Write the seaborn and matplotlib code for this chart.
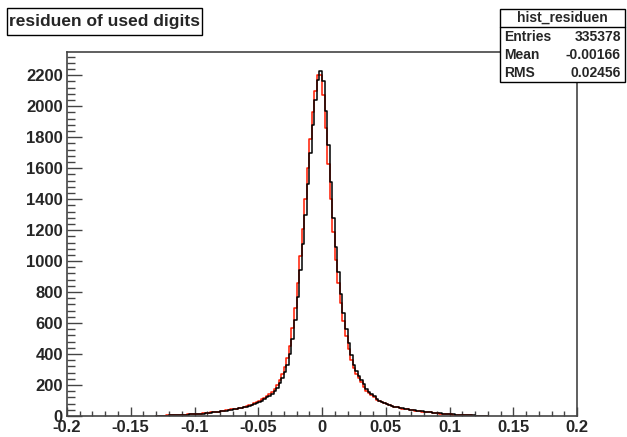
import numpy as np
import pandas as pd
import matplotlib
matplotlib.use("Agg")
import matplotlib.pyplot as plt
from matplotlib.patches import Rectangle
from matplotlib.lines import Line2D
from matplotlib.ticker import MultipleLocator
import seaborn as sns

# ---- data (counts per bin, bin width 0.002, -0.13..0.13) ----
bin_lo = -0.13
bin_w = 0.002

black_counts = [
    1, 2, 2, 3, 3, 4, 4, 5, 5, 6,
    7, 8, 9, 10, 11, 12, 13, 15, 16, 18,
    20, 22, 24, 26, 28, 30, 32, 35, 37, 40,
    43, 46, 49, 52, 55, 59, 64, 69, 75, 82,
    90, 98, 108, 120, 132, 145, 160, 180, 210, 245,
    285, 330, 400, 500, 620, 770, 940, 1110, 1300, 1500,
    1700, 1880, 2040, 2170, 2230,
    2160, 1970, 1750, 1510, 1280, 1090, 930, 790, 665, 560,
    470, 395, 330, 290, 258, 232, 205, 172, 155, 140,
    127, 112, 100, 92, 85, 78, 72, 66, 61, 57,
    53, 50, 47, 44, 41, 39, 37, 34, 32, 30,
    28, 26, 24, 22, 20, 19, 17, 15, 14, 12,
    11, 10, 9, 8, 7, 6, 5, 5, 4, 4,
    3, 3, 2, 2, 1,
]

red_counts = [
    2, 2, 3, 3, 4, 4, 5, 5, 6, 7,
    8, 9, 10, 11, 12, 13, 14, 16, 17, 19,
    21, 23, 25, 27, 29, 31, 34, 36, 39, 42,
    45, 48, 51, 54, 58, 63, 68, 74, 81, 89,
    98, 107, 118, 131, 144, 158, 176, 200, 233, 272,
    315, 372, 455, 565, 700, 860, 1030, 1210, 1400, 1600,
    1790, 1960, 2100, 2200, 2200,
    2070, 1860, 1630, 1400, 1185, 1010, 860, 728, 612, 515,
    432, 362, 310, 274, 245, 218, 188, 163, 148, 133,
    120, 106, 96, 88, 81, 75, 69, 63, 59, 55,
    51, 48, 45, 42, 40, 38, 35, 33, 31, 29,
    27, 25, 23, 21, 19, 18, 16, 14, 13, 11,
    10, 9, 8, 7, 6, 5, 5, 4, 4, 3,
    3, 2, 2, 1, 1,
]

x_ticks = [-0.2, -0.15, -0.1, -0.05, 0, 0.05, 0.1, 0.15, 0.2]
x_tick_labels = ["-0.2", "-0.15", "-0.1", "-0.05", "0", "0.05", "0.1", "0.15", "0.2"]
y_ticks = list(range(0, 2201, 200))

title_text = "residuen of used digits"
stats_name = "hist_residuen"
stats_rows = [("Entries", "335378"), ("Mean", "-0.00166"), ("RMS", "0.02456")]

# ---- build tables ----
n_bins = len(black_counts)
edges = [bin_lo + i * bin_w for i in range(n_bins + 1)]
centers = [bin_lo + (i + 0.5) * bin_w for i in range(n_bins)]
df_red = pd.DataFrame({"x": centers, "count": red_counts})
df_black = pd.DataFrame({"x": centers, "count": black_counts})

sns.set_style("white")
plt.rcParams["font.family"] = ["Liberation Sans", "DejaVu Sans"]

W, H = 627, 437
fig = plt.figure(figsize=(W / 100, H / 100), dpi=100)
ax_l, ax_r, ax_t, ax_b = 67, 577, 52, 416
ax = fig.add_axes([ax_l / W, (H - ax_b) / H, (ax_r - ax_l) / W, (ax_b - ax_t) / H])

sns.histplot(data=df_red, x="x", weights="count", bins=edges,
             element="step", fill=False, color="#ff1a00", linewidth=1.1, ax=ax)
sns.histplot(data=df_black, x="x", weights="count", bins=edges,
             element="step", fill=False, color="black", linewidth=1.1, ax=ax)

ax.set_xlim(-0.2, 0.2)
ax.set_ylim(0, 2350)
ax.set_xlabel("")
ax.set_ylabel("")
ax.set_xticks(x_ticks)
ax.set_xticklabels(x_tick_labels)
ax.set_yticks(y_ticks)
ax.xaxis.set_minor_locator(MultipleLocator(0.01))
ax.yaxis.set_minor_locator(MultipleLocator(40))
tick_col = "#444444"
ax.tick_params(axis="x", which="major", direction="in", length=6.5, width=1,
               color=tick_col, labelsize=12, pad=3, bottom=True, top=False)
ax.tick_params(axis="x", which="minor", direction="in", length=3.6, width=1,
               color=tick_col, bottom=True, top=False)
ax.tick_params(axis="y", which="major", direction="in", length=11, width=1,
               color=tick_col, labelsize=12, pad=3, left=True, right=False)
ax.tick_params(axis="y", which="minor", direction="in", length=5.8, width=1,
               color=tick_col, left=True, right=False)
for lab in ax.get_xticklabels() + ax.get_yticklabels():
    lab.set_fontweight("bold")
for s in ax.spines.values():
    s.set_color(tick_col)
    s.set_linewidth(1.2)

# title box
tb_x0, tb_x1, tb_y0, tb_y1 = 7, 202, 8, 35
fig.patches.append(Rectangle((tb_x0 / W, 1 - tb_y1 / H), (tb_x1 - tb_x0) / W, (tb_y1 - tb_y0) / H,
                             transform=fig.transFigure, fc="white", ec="black", lw=1, zorder=5))
fig.text((tb_x0 + tb_x1) / 2 / W, 1 - (tb_y0 + tb_y1) / 2 / H, title_text, fontsize=12.5,
         fontweight="bold", ha="center", va="center", zorder=7)

# stats box
sb_x0, sb_x1, sb_y0, sb_y1 = 500, 625, 9, 82
fig.patches.append(Rectangle((sb_x0 / W, 1 - sb_y1 / H), (sb_x1 - sb_x0) / W, (sb_y1 - sb_y0) / H,
                             transform=fig.transFigure, fc="white", ec="black", lw=1, zorder=5))
sep = 27
fig.lines.append(Line2D([sb_x0 / W, sb_x1 / W], [1 - sep / H, 1 - sep / H],
                        transform=fig.transFigure, color="black", lw=1, zorder=6))
fig.text((sb_x0 + sb_x1) / 2 / W, 1 - 18 / H, stats_name, fontsize=10, fontweight="bold",
         ha="center", va="center", zorder=7)
row_y = [37, 55, 73]
for (k, v), yy in zip(stats_rows, row_y):
    fig.text((sb_x0 + 4) / W, 1 - yy / H, k, fontsize=10, fontweight="bold",
             ha="left", va="center", zorder=7)
    fig.text((sb_x1 - 4) / W, 1 - yy / H, v, fontsize=10, fontweight="bold",
             ha="right", va="center", zorder=7)

fig.savefig("out.png", dpi=100)
